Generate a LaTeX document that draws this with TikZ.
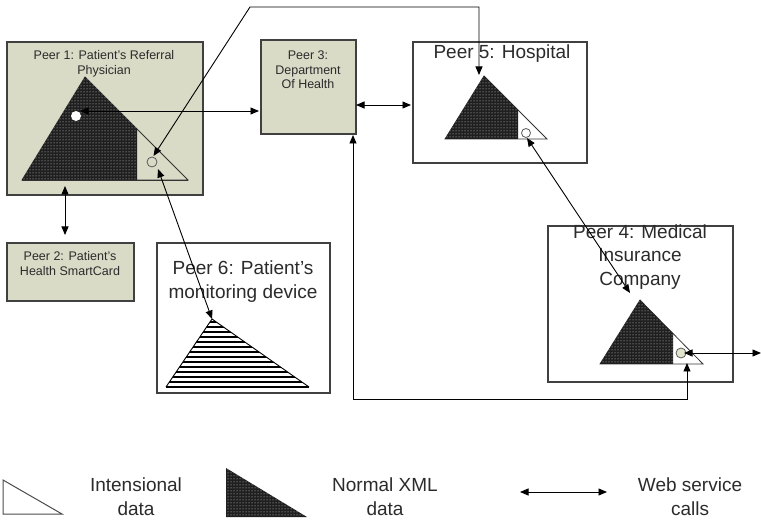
\documentclass[tikz,border=0pt]{standalone}
\usepackage{fontspec}
\setmainfont{Liberation Sans}
\usetikzlibrary{arrows.meta,patterns}
\definecolor{peerfill}{HTML}{D9DBC7}
\definecolor{boxline}{HTML}{404040}
\definecolor{txt}{HTML}{2B2B2B}
\definecolor{circfill}{HTML}{E2E5CC}
\tikzset{
  peerbox/.style={draw=boxline, line width=1.2pt, inner sep=0pt},
  greenbox/.style={peerbox, fill=peerfill},
  whitebox/.style={peerbox, fill=white},
  smalltxt/.style={inner sep=0pt, align=center, text=txt, font=\fontsize{12.5}{14.5}\selectfont},
  bigtxt/.style={inner sep=0pt, align=center, text=txt, font=\fontsize{19}{23.5}\selectfont},
  conn/.style={line width=0.9pt, black, {Triangle[length=8.5pt,width=7pt]}-{Triangle[length=8.5pt,width=7pt]}},
  darkdata/.style={fill=black!88},
  dotsover/.style={pattern=dots, pattern color=white!75!gray},
  triline/.style={draw=black!80, line width=0.8pt},
  lilcirc/.style={draw=gray!70!black, line width=0.8pt}
}
\begin{document}
\begin{tikzpicture}[x=1pt,y=-1pt]
\useasboundingbox (0,0) rectangle (761,521);
% boxes
\node[greenbox, minimum width=196pt, minimum height=153pt] (p1) at (105,118.5) {};
\node[greenbox, minimum width=127pt, minimum height=58pt] (p2) at (70.5,272) {};
\node[greenbox, minimum width=95pt, minimum height=94pt] (p3) at (308.5,87) {};
\node[whitebox, minimum width=174pt, minimum height=121pt] (p5) at (500,102.5) {};
\node[whitebox, minimum width=185pt, minimum height=156pt] (p4) at (640.5,304) {};
\node[whitebox, minimum width=173pt, minimum height=150pt] (p6) at (243.5,318) {};
% labels
\node[smalltxt] (t1) at (104,64) {Peer 1: Patient's Referral\\Physician};
\node[smalltxt] (t2) at (70,263.5) {Peer 2: Patient's\\Health SmartCard};
\node[smalltxt] (t3) at (308,70) {Peer 3:\\Department\\Of Health};
\node[bigtxt] (t5) at (502,54) {Peer 5: Hospital};
\node[bigtxt] (t4) at (640,257) {Peer 4: Medical\\Insurance\\Company};
\node[bigtxt] (t6) at (243,281.5) {Peer 6: Patient's\\monitoring device};
% Peer 1 triangle
\draw[triline] (22,180) -- (85,77) -- (188,180) -- cycle;
\fill[darkdata] (22,180) -- (85,77) -- (137,129) -- (137,180) -- cycle;
\fill[dotsover] (22,180) -- (85,77) -- (137,129) -- (137,180) -- cycle;
\draw[triline] (22,180) -- (188,180);
\node[circle, fill=white, minimum size=10pt, inner sep=0pt] (d1) at (76,116) {};
\node[circle, lilcirc, minimum size=10pt, inner sep=0pt] (c1) at (152,162) {};
% Peer 5 triangle
\draw[triline, fill=white] (445,139) -- (484,76) -- (547,139) -- cycle;
\fill[darkdata] (445,139) -- (484,76) -- (518,110) -- (518,139) -- cycle;
\fill[dotsover] (445,139) -- (484,76) -- (518,110) -- (518,139) -- cycle;
\node[circle, lilcirc, minimum size=9pt, inner sep=0pt] (c5) at (526,133) {};
% Peer 4 triangle
\draw[triline, fill=white] (600,364) -- (640,300) -- (703,364) -- cycle;
\fill[darkdata] (600,364) -- (640,300) -- (673,333.5) -- (673,364) -- cycle;
\fill[dotsover] (600,364) -- (640,300) -- (673,333.5) -- (673,364) -- cycle;
\node[circle, lilcirc, fill=circfill, minimum size=10pt, inner sep=0pt] (c4) at (681,353) {};
% Peer 6 striped triangle
\begin{scope}
\clip (166,387) -- (212,319) -- (309,387) -- cycle;
\foreach \yy in {322,327,...,387} {
  \draw[black, line width=1.1pt] (150,\yy) -- (320,\yy);
}
\end{scope}
\draw[black, line width=0.9pt] (166,387) -- (212,319) -- (309,387);
\draw[black, line width=1.3pt] (166,387) -- (309,387);
% connectors
\coordinate (a1s) at (80,111);
\coordinate (a1e) at (259,111);
\draw[conn] (a1s) -- (a1e);
\coordinate (a2s) at (153.5,156);
\coordinate (a2b) at (250,7);
\coordinate (a2c) at (479,7);
\coordinate (a2e) at (479,75);
\draw[conn] (a2s) -- (a2b) -- (a2c) -- (a2e);
\coordinate (a3s) at (65,186);
\coordinate (a3e) at (65,235);
\draw[conn] (a3s) -- (a3e);
\coordinate (a4s) at (356,105);
\coordinate (a4e) at (411,105);
\draw[conn] (a4s) -- (a4e);
\coordinate (a5s) at (527,138);
\coordinate (a5e) at (630,293);
\draw[conn] (a5s) -- (a5e);
\coordinate (a6s) at (684,353);
\coordinate (a6e) at (761,353);
\draw[conn] (a6s) -- (a6e);
\coordinate (a7s) at (353,135);
\coordinate (a7b) at (353,399);
\coordinate (a7c) at (687,399);
\coordinate (a7e) at (687,363);
\draw[conn] (a7s) -- (a7b) -- (a7c) -- (a7e);
\coordinate (a8s) at (158,169);
\coordinate (a8e) at (212,319);
\draw[conn] (a8s) -- (a8e);
% legend
\draw[draw=gray!60!black, line width=1pt, fill=white] (3,480) -- (3,514) -- (62,514) -- cycle;
\fill[darkdata] (226,468) -- (226,517) -- (307,517) -- cycle;
\fill[dotsover] (226,468) -- (226,517) -- (307,517) -- cycle;
\node[bigtxt] (l1) at (136,496.5) {Intensional\\data};
\node[bigtxt] (l2) at (385,496.5) {Normal XML\\data};
\node[bigtxt] (l3) at (690,496.5) {Web service\\calls};
\coordinate (lgs) at (520,492);
\coordinate (lge) at (607,492);
\draw[conn] (lgs) -- (lge);
\end{tikzpicture}
\end{document}
